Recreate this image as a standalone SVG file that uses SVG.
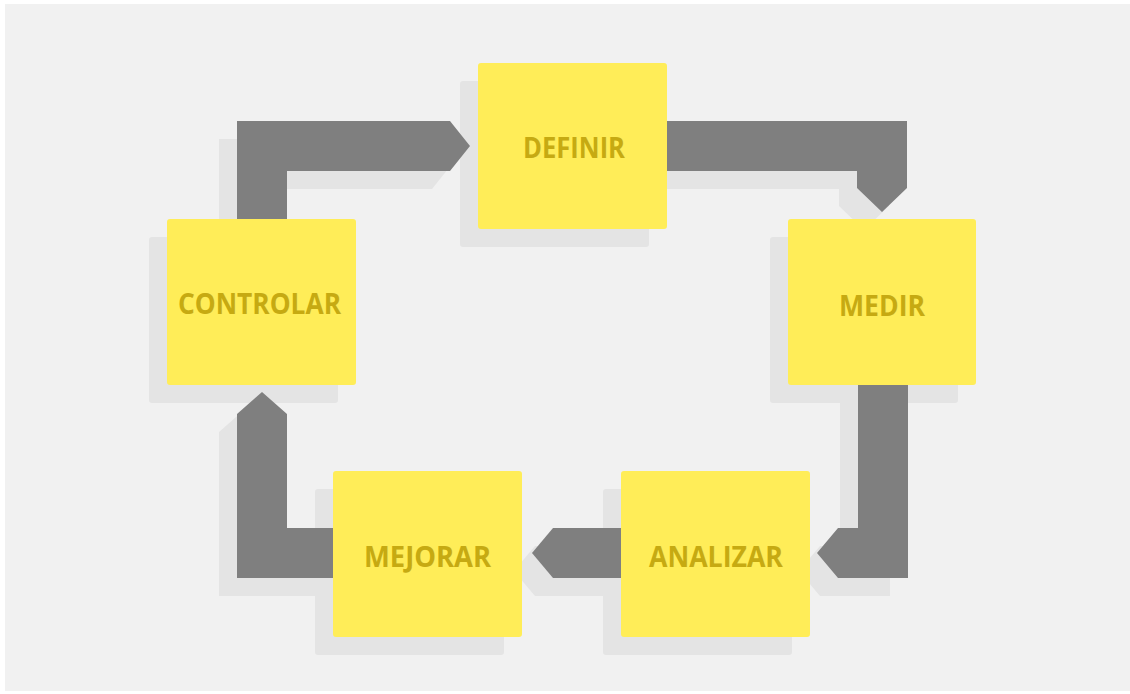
<svg xmlns="http://www.w3.org/2000/svg" width="1130" height="694" viewBox="0 0 1130 694">
  <style>
    .shadow { fill: #e4e4e4; }
    .arrow { fill: #7f7f7f; }
    .box { fill: #ffed58; }
    .label { font-family: "Open Sans", "Liberation Sans", sans-serif; font-weight: bold; font-size: 28px; fill: #c6aa12; text-anchor: middle; }
  </style>
  <rect x="0" y="0" width="1130" height="694" fill="#ffffff"/>
  <rect x="5" y="4" width="1125" height="687" fill="#f1f1f1"/>

  <g id="shadows">
    <rect class="shadow" x="460" y="81" width="189" height="166" rx="3"/>
    <rect class="shadow" x="770" y="237" width="188" height="166" rx="3"/>
    <rect class="shadow" x="149" y="237" width="189" height="166" rx="3"/>
    <rect class="shadow" x="315" y="489" width="189" height="166" rx="3"/>
    <rect class="shadow" x="603" y="489" width="189" height="166" rx="3"/>
    <polygon class="shadow" points="219,245 219,139 432,139 452,164 432,189 269,189 269,245"/>
    <polygon class="shadow" points="642,139 889,139 889,206 864,230 839,206 839,189 642,189"/>
    <polygon class="shadow" points="840,398 890,398 890,596 820,596 799,571 820,546 840,546"/>
    <polygon class="shadow" points="612,546 535,546 514,571 535,596 612,596"/>
    <polygon class="shadow" points="322,596 219,596 219,432 244,410 269,432 269,546 322,546"/>
  </g>

  <g id="connectors">
    <polygon class="arrow" points="237,225 237,121 450,121 470,146 450,171 287,171 287,225"/>
    <polygon class="arrow" points="660,121 907,121 907,188 882,212 857,188 857,171 660,171"/>
    <polygon class="arrow" points="858,380 908,380 908,578 838,578 817,553 838,528 858,528"/>
    <polygon class="arrow" points="630,528 553,528 532,553 553,578 630,578"/>
    <polygon class="arrow" points="340,578 237,578 237,414 262,392 287,414 287,528 340,528"/>
  </g>

  <g id="definir">
    <rect class="box" x="478" y="63" width="189" height="166" rx="3"/>
    <text class="label" x="574" y="158" textLength="102" lengthAdjust="spacingAndGlyphs">DEFINIR</text>
  </g>
  <g id="medir">
    <rect class="box" x="788" y="219" width="188" height="166" rx="3"/>
    <text class="label" x="882" y="316" textLength="86" lengthAdjust="spacingAndGlyphs">MEDIR</text>
  </g>
  <g id="analizar">
    <rect class="box" x="621" y="471" width="189" height="166" rx="3"/>
    <text class="label" x="716" y="567" textLength="134" lengthAdjust="spacingAndGlyphs">ANALIZAR</text>
  </g>
  <g id="mejorar">
    <rect class="box" x="333" y="471" width="189" height="166" rx="3"/>
    <text class="label" x="427.5" y="567" textLength="127" lengthAdjust="spacingAndGlyphs">MEJORAR</text>
  </g>
  <g id="controlar">
    <rect class="box" x="167" y="219" width="189" height="166" rx="3"/>
    <text class="label" x="259.5" y="314" textLength="163" lengthAdjust="spacingAndGlyphs">CONTROLAR</text>
  </g>
</svg>
